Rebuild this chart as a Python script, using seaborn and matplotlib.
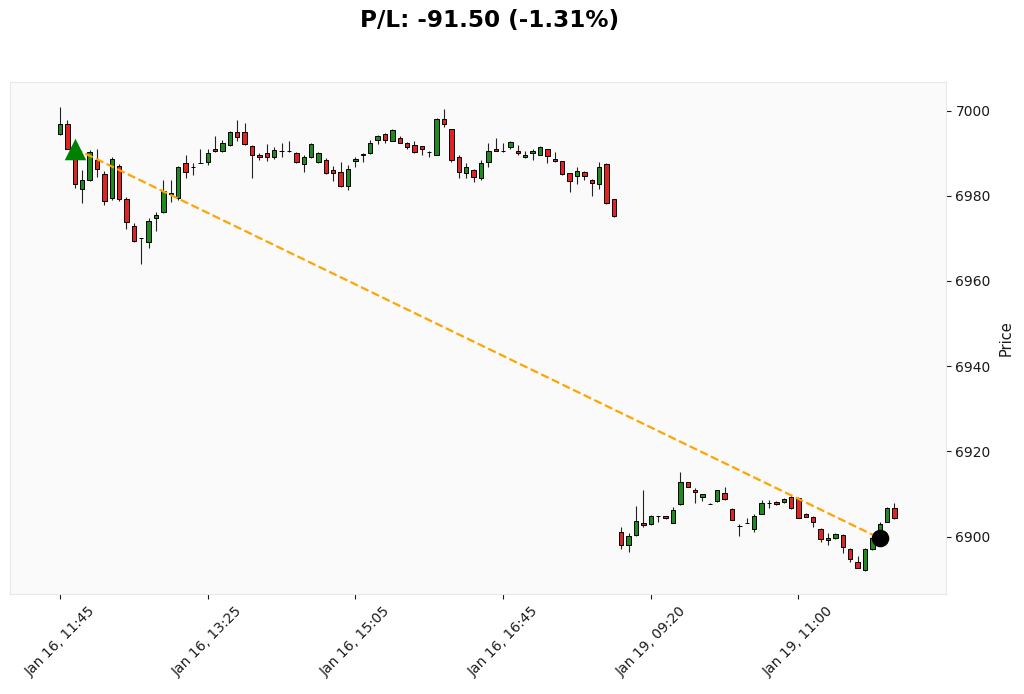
import numpy as np
import pandas as pd
import matplotlib
matplotlib.use('Agg')
import matplotlib.pyplot as plt
import seaborn as sns

# OHLC data (5-minute bars), Jan 16 11:45-18:00 and Jan 19 09:00-12:05
opens = [6994.4, 6996.9, 6991.1, 6981.7, 6983.7, 6988.4, 6985.1, 6979.4, 6987.0, 6979.2,
         6972.9, 6970.0, 6969.1, 6974.7, 6976.1, 6980.5, 6979.4, 6987.6, 6986.8, 6987.7,
         6988.0, 6991.1, 6990.6, 6992.0, 6995.1, 6995.0, 6991.7, 6989.7, 6990.1, 6989.0,
         6990.6, 6990.6, 6990.1, 6987.4, 6989.0, 6988.0, 6988.5, 6986.0, 6985.6, 6982.3,
         6988.1, 6989.7, 6990.0, 6993.1, 6994.5, 6992.9, 6993.5, 6992.4, 6991.9, 6991.7,
         6990.2, 6989.7, 6998.0, 6995.8, 6989.2, 6985.3, 6986.0, 6984.1, 6988.0, 6990.9,
         6990.6, 6991.5, 6990.6, 6989.2, 6990.0, 6989.6, 6991.0, 6988.6, 6988.1, 6985.3,
         6984.6, 6985.6, 6983.8, 6982.7, 6987.4, 6979.2,
         6901.0, 6898.0, 6900.4, 6903.2, 6902.9, 6904.7, 6904.8, 6903.2, 6907.6, 6912.7,
         6910.9, 6909.3, 6907.7, 6908.3, 6910.1, 6906.5, 6902.5, 6903.2, 6901.7, 6905.4,
         6907.9, 6908.2, 6908.0, 6909.2, 6909.1, 6905.4, 6904.6, 6901.8, 6899.2, 6899.6,
         6900.4, 6897.0, 6894.1, 6892.1, 6897.1, 6899.6, 6903.3, 6906.8]
highs = [7000.9, 6997.8, 6991.6, 6986.0, 6990.7, 6991.0, 6985.8, 6989.0, 6987.4, 6979.8,
         6973.7, 6970.1, 6974.7, 6976.2, 6983.7, 6983.7, 6987.0, 6989.6, 6987.7, 6990.9,
         6990.9, 6994.0, 6993.2, 6995.3, 6997.8, 6997.2, 6991.9, 6990.1, 6992.1, 6991.4,
         6992.4, 6992.9, 6990.3, 6989.6, 6992.3, 6990.3, 6988.8, 6987.0, 6988.0, 6987.2,
         6989.0, 6990.1, 6993.1, 6994.2, 6994.8, 6995.6, 6994.0, 6992.7, 6992.8, 6991.7,
         6990.5, 6998.2, 7000.3, 6995.8, 6989.6, 6987.6, 6986.4, 6988.4, 6992.4, 6993.6,
         6992.4, 6992.9, 6991.9, 6990.6, 6990.9, 6991.7, 6991.1, 6990.3, 6988.2, 6985.4,
         6986.7, 6985.9, 6984.0, 6988.0, 6987.6, 6979.3,
         6902.3, 6900.8, 6907.2, 6910.9, 6905.0, 6904.8, 6904.9, 6907.0, 6915.2, 6912.8,
         6911.3, 6910.0, 6907.8, 6911.0, 6911.7, 6906.6, 6902.9, 6904.4, 6905.2, 6908.6,
         6908.6, 6908.3, 6909.0, 6909.7, 6909.3, 6905.5, 6904.8, 6901.9, 6900.8, 6900.9,
         6900.5, 6897.2, 6895.5, 6897.2, 6899.8, 6903.5, 6907.0, 6907.8]
lows = [6994.2, 6990.9, 6981.9, 6978.4, 6983.4, 6984.5, 6977.8, 6979.1, 6978.8, 6972.3,
        6969.2, 6964.1, 6967.7, 6971.7, 6975.9, 6978.6, 6979.0, 6984.2, 6984.9, 6987.6,
        6987.2, 6990.3, 6990.3, 6991.7, 6992.9, 6991.9, 6984.2, 6988.4, 6988.2, 6988.7,
        6989.2, 6990.3, 6987.7, 6985.6, 6988.8, 6987.6, 6985.1, 6983.5, 6982.1, 6981.3,
        6986.8, 6988.0, 6989.8, 6992.1, 6992.4, 6992.8, 6992.3, 6991.0, 6990.0, 6989.6,
        6989.2, 6989.6, 6996.1, 6988.0, 6984.2, 6984.1, 6983.3, 6983.8, 6986.8, 6990.6,
        6990.3, 6991.1, 6989.6, 6988.8, 6988.5, 6989.6, 6987.7, 6988.0, 6985.0, 6980.8,
        6982.7, 6983.7, 6980.0, 6981.7, 6978.1, 6975.0,
        6897.1, 6896.4, 6900.2, 6902.3, 6902.7, 6903.3, 6904.2, 6903.1, 6907.5, 6911.6,
        6907.9, 6908.3, 6907.6, 6908.2, 6908.6, 6903.8, 6900.1, 6903.1, 6901.1, 6905.2,
        6906.8, 6907.5, 6907.9, 6906.5, 6904.3, 6904.5, 6902.2, 6898.6, 6898.0, 6899.4,
        6896.1, 6894.1, 6892.5, 6891.9, 6896.9, 6899.4, 6903.3, 6904.1]
closes = [6996.9, 6991.1, 6982.7, 6983.7, 6990.2, 6986.3, 6978.8, 6988.6, 6979.2, 6973.9,
          6969.5, 6970.0, 6974.2, 6975.4, 6981.2, 6980.7, 6986.7, 6985.5, 6986.8, 6987.7,
          6990.1, 6990.6, 6992.5, 6995.1, 6993.8, 6992.1, 6989.5, 6989.0, 6989.2, 6990.7,
          6990.6, 6990.6, 6988.0, 6989.2, 6992.1, 6990.1, 6985.3, 6985.3, 6982.3, 6986.4,
          6988.6, 6989.9, 6992.5, 6994.0, 6993.1, 6995.4, 6992.4, 6991.4, 6990.2, 6990.9,
          6990.2, 6998.0, 6996.8, 6988.5, 6985.5, 6986.7, 6984.5, 6987.7, 6990.6, 6990.6,
          6990.6, 6992.6, 6990.0, 6989.7, 6990.6, 6991.5, 6989.4, 6988.1, 6985.1, 6983.5,
          6985.8, 6984.6, 6983.1, 6986.7, 6978.2, 6975.2,
          6898.0, 6900.1, 6903.7, 6902.7, 6904.9, 6904.8, 6904.3, 6906.2, 6912.9, 6911.7,
          6910.4, 6909.9, 6907.7, 6910.9, 6908.8, 6903.9, 6902.5, 6903.2, 6904.9, 6907.8,
          6907.9, 6907.6, 6908.7, 6906.6, 6904.4, 6904.6, 6903.3, 6899.4, 6899.7, 6900.6,
          6897.6, 6894.7, 6892.7, 6897.0, 6899.6, 6902.9, 6906.8, 6904.3]

tick_pos = [0, 20, 40, 60, 80, 100]
tick_labels = ['Jan 16, 11:45', 'Jan 16, 13:25', 'Jan 16, 15:05',
               'Jan 16, 16:45', 'Jan 19, 09:20', 'Jan 19, 11:00']

# trade
entry_bar, entry_price = 2, 6991.1
exit_bar, exit_price = 111, 6899.6
pnl = exit_price - entry_price
pnl_pct = pnl / entry_price * 100

df = pd.DataFrame({'open': opens, 'high': highs, 'low': lows, 'close': closes})
df['idx'] = np.arange(len(df))
up = df['close'] >= df['open']
colors = np.where(up, '#1f8a1f', '#e02424')

sns.set_style('white', {'axes.facecolor': '#fafafa', 'axes.edgecolor': '#e8e8e8',
                        'xtick.bottom': True, 'ytick.right': True})
plt.rcParams['font.family'] = ['DejaVu Sans']

fig = plt.figure(figsize=(10.24, 6.94), dpi=100)
ax = fig.add_axes([0.0098, 0.1441, 0.9137, 0.7382])

# wicks and bodies
ax.vlines(df['idx'], df['low'], df['high'], color='#222222', linewidth=0.8, zorder=2)
ax.bar(df['idx'], (df['close'] - df['open']).abs(),
       bottom=df[['open', 'close']].min(axis=1), width=0.6,
       color=colors, edgecolor='black', linewidth=0.7, zorder=3)

# entry -> exit line
trade = pd.DataFrame({'bar': [entry_bar, exit_bar], 'price': [entry_price, exit_price]})
sns.lineplot(data=trade, x='bar', y='price', ax=ax, color='orange',
             linestyle='--', linewidth=1.6, zorder=4)
sns.scatterplot(x=[entry_bar], y=[entry_price], ax=ax, marker='^', s=240,
                color='green', linewidth=0, zorder=5)
sns.scatterplot(x=[exit_bar], y=[exit_price], ax=ax, marker='o', s=160,
                color='black', linewidth=0, zorder=5)

ax.set_xlim(-6.77, 119.93)
ax.set_ylim(6886.5, 7006.8)
ax.set_xticks(tick_pos)
ax.set_xticklabels(tick_labels, rotation=45, fontsize=10, color='#1a1a1a')
ax.yaxis.tick_right()
ax.yaxis.set_label_position('right')
ax.set_yticks([6900, 6920, 6940, 6960, 6980, 7000])
ax.tick_params(axis='y', labelsize=10, colors='#1a1a1a', length=3.5, width=0.8)
ax.tick_params(axis='x', length=3.5, width=0.8, colors='#1a1a1a')
ax.set_xlabel('')
ax.set_ylabel('Price', fontsize=10.5, color='#1a1a1a', labelpad=6)
for s in ax.spines.values():
    s.set_linewidth(0.8)

fig.text(490 / 1024, 1 - 20 / 694, f'P/L: {pnl:.2f} ({pnl_pct:.2f}%)',
         ha='center', va='center', fontsize=16.6, fontweight='bold', color='black')

fig.savefig('out.png', dpi=100)
